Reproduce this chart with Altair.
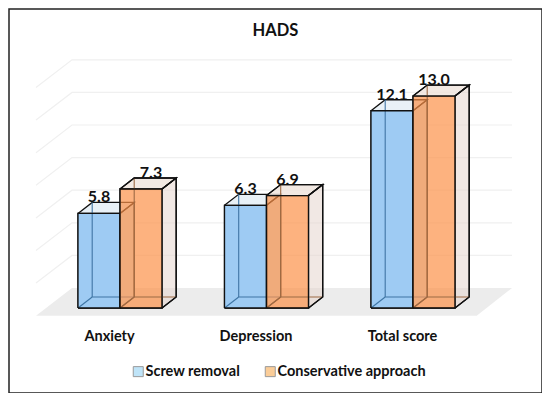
import altair as alt
import pandas as pd

categories = ["Anxiety", "Depression", "Total score"]
series = ["Screw removal", "Conservative approach"]
screw_removal = [5.8, 6.3, 12.1]
conservative = [7.3, 6.9, 13.0]
grid_values = [2, 4, 6, 8, 10, 12, 14]
conservative_label_shift_px = [10, 0, 0]

W, H = 533, 384
PXU = 16.3      # px per value unit
PXI = 146.5     # px per category
ORX, ORY = 9, 9  # view origin on page
CX0, BASE = 109, 308  # page pixel of category 0 / value 0


def xv(px):
    return (px - CX0) / PXI


def yv(px):
    return (BASE - px) / PXU


xscale = alt.Scale(domain=[xv(ORX), xv(ORX + W)], range=[0, W], nice=False, zero=False)
yscale = alt.Scale(domain=[yv(ORY + H), yv(ORY)], range=[H, 0], nice=False, zero=False)

BW = 42 / PXI
DX = 14.2 / PXI
DY = 11 / PXU
LEFT = (78 - CX0) / PXI

AX = alt.Axis(
    values=[0, 1, 2],
    labelExpr="['" + "','".join(categories) + "'][datum.value]",
    domain=False, ticks=False, grid=False, title=None, labelFlush=False,
    labelFont="Lato", labelFontWeight="bold", labelFontSize=14.5, labelColor="#111111",
    labelPadding=0, offset=-64, labelOverlap=False,
)
X = alt.X("x:Q", scale=xscale, axis=AX)
Y = alt.Y("y:Q", scale=yscale, axis=None)


def lines(rows, color, width):
    df = pd.DataFrame(rows, columns=["id", "o", "x", "y"])
    return alt.Chart(df).mark_line(color=color, strokeWidth=width, clip=False).encode(
        x=X, y=Y, detail="id:N", order="o:Q"
    )


def bar_layers(values, front, side, side_op, top, front_op, hidden_col, prefix, left_shift):
    hidden, visible, vfaces, hfaces, fronts = [], [], [], [], []
    for i, v in enumerate(values):
        x0 = i + LEFT + left_shift
        x1 = x0 + BW
        bx0, bx1 = x0 + DX, x1 + DX
        def seg(store, name, pts):
            for o, (a, b) in enumerate(pts):
                store.append((f"{prefix}{i}{name}", o, a, b))
        seg(hidden, "a", [(bx0, DY), (bx0, v + DY)])
        seg(hidden, "b", [(bx0, DY), (bx1, DY)])
        seg(hidden, "c", [(x0, 0), (bx0, DY)])
        seg(visible, "d", [(x1, 0), (bx1, DY), (bx1, v + DY), (x1, v)])
        seg(visible, "e", [(x0, 0), (x0, v), (x1, v), (x1, 0), (x0, 0)])
        seg(visible, "f", [(x0, v), (bx0, v + DY), (bx1, v + DY), (x1, v)])
        vfaces += [(f"{i}", x1, 0, v), (f"{i}", bx1, DY, v + DY)]
        hfaces += [(f"{i}", v, x0, x1), (f"{i}", v + DY, bx0, bx1)]
        fronts += [(f"{i}", x0, 0, v), (f"{i}", x1, 0, v)]
    vdf = pd.DataFrame(vfaces, columns=["id", "x", "y", "y2"])
    hdf = pd.DataFrame(hfaces, columns=["id", "y", "x", "x2"])
    fdf = pd.DataFrame(fronts, columns=["id", "x", "y", "y2"])
    return [
        alt.Chart(vdf).mark_area(color=side, opacity=side_op, orient="vertical").encode(
            x=X, y=Y, y2="y2:Q", detail="id:N"),
        alt.Chart(hdf).mark_area(color=top, opacity=0.8, orient="horizontal").encode(
            y=Y, x=X, x2="x2:Q", detail="id:N"),
        lines(visible, "#111111", 1.3),
        alt.Chart(fdf).mark_area(color=front, opacity=front_op, orient="vertical").encode(
            x=X, y=Y, y2="y2:Q", detail="id:N"),
        lines(hidden, hidden_col, 1.1),
        lines(visible, "#111111", 1.3).transform_filter("indexof(datum.id,'o')==0 || indexof(datum.id,'e')>0"),
    ]


# floor
BACK_Y, FRONT_Y = yv(288), yv(315.7)
floor_df = pd.DataFrame({
    "id": ["f", "f"], "y": [FRONT_Y, BACK_Y],
    "x": [xv(36), xv(72)], "x2": [xv(476.7), xv(512)],
})
floor = alt.Chart(floor_df).mark_area(color="#ececec", orient="horizontal").encode(
    y=Y, x=X, x2="x2:Q", detail="id:N"
)

# back-plane gridlines
grid_rows = []
for g in grid_values:
    grid_rows += [
        (f"g{g}", 0, xv(36), g + FRONT_Y),
        (f"g{g}", 1, xv(72), g + BACK_Y),
        (f"g{g}", 2, xv(512), g + BACK_Y),
    ]
grid = lines(grid_rows, "#f0f0f0", 1.2)

blue = bar_layers(screw_removal, "#9ecbf3", "#d4e6f2", 1.0, "#e3edf5", 1.0, "#3f75a4", "b", 0)
orange = bar_layers(conservative, "#fc9148", "#e6d6cd", 0.55, "#efe4dc", 0.7, "#9c6a45", "o", BW)

# value labels
lab = []
for i, (a, b, s) in enumerate(zip(screw_removal, conservative, conservative_label_shift_px)):
    lab.append((i + LEFT + BW / 2, a + DY, f"{a:.1f}"))
    lab.append((i + LEFT + BW * 1.5 + s / PXI, b + DY, f"{b:.1f}"))
lab_df = pd.DataFrame(lab, columns=["x", "y", "t"])
labels = alt.Chart(lab_df).mark_text(
    font="Lato", fontWeight="bold", fontSize=16, color="#111111", baseline="alphabetic"
).encode(x=X, y=Y, text="t:N")

# legend
leg_df = pd.DataFrame({"s": series, "x": [0, 0], "y": [0, 0]})
legend = alt.Chart(leg_df).mark_square(opacity=0).encode(
    x=X, y=Y,
    fill=alt.Fill("s:N", scale=alt.Scale(domain=series, range=["#bfe4f8", "#fbcd98"]),
                  legend=alt.Legend(
                      orient="none", legendX=122, legendY=355, direction="horizontal",
                      title=None, symbolType="square", symbolSize=100, symbolOpacity=1,
                      symbolStrokeColor="#9a9a9a", symbolStrokeWidth=1,
                      labelFont="Lato", labelFontWeight="bold", labelFontSize=14.5,
                      labelColor="#111111", columnPadding=22, labelOffset=0,
                      symbolOffset=0)),
)

chart = alt.layer(floor, grid, *blue, *orange, labels, legend).properties(
    width=W, height=H,
    padding={"left": 1, "top": 1, "right": 0, "bottom": 0},
    autosize=alt.AutoSizeParams(type="none"),
    title=alt.TitleParams("HADS", font="Lato", fontWeight="bold", fontSize=16.5, color="#111111",
                          anchor="middle", dy=30, offset=0),
    background="white",
).configure_view(stroke="#222222", strokeWidth=1.5)

chart.save("out.html", embed_options={"renderer": "svg", "actions": False})
